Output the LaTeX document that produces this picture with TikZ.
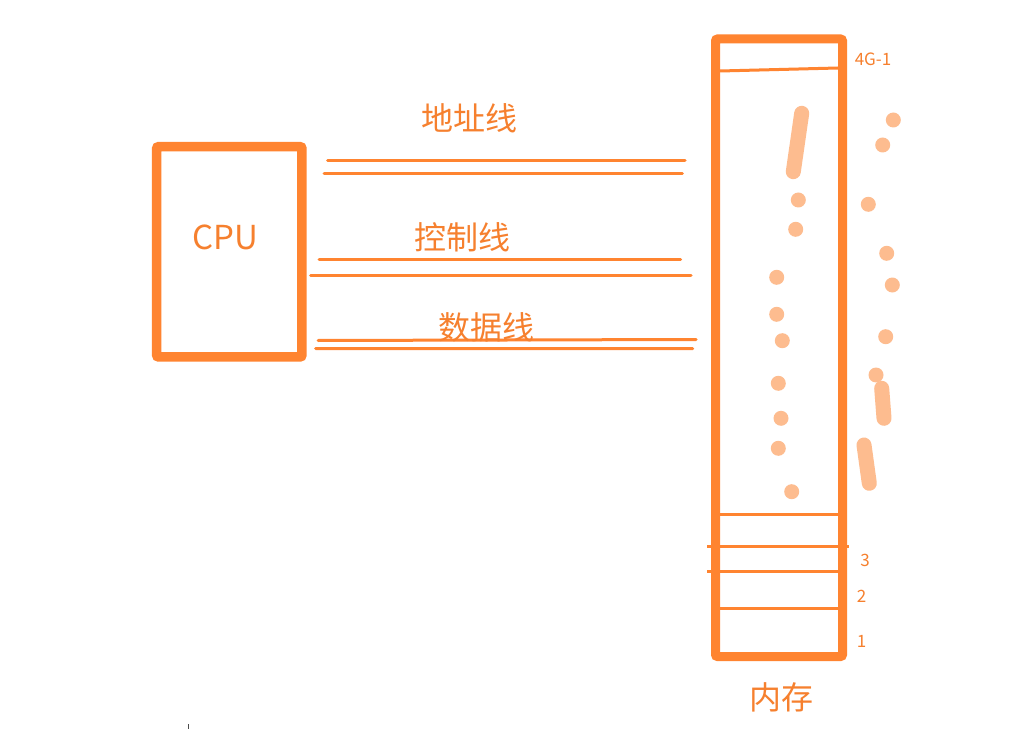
\documentclass[tikz,border=0pt]{standalone}
\usepackage{fontspec}
\setmainfont{Noto Sans CJK SC}
\definecolor{org}{RGB}{255,132,48}
\definecolor{orgtxt}{RGB}{246,128,46}
\definecolor{pale}{RGB}{253,188,143}
\begin{document}
\begin{tikzpicture}[x=1pt,y=-1pt,
  boxstyle/.style={draw=org,line width=9.5pt,rounded corners=2pt,inner sep=0pt,outer sep=0pt},
  busline/.style={draw=org,line width=3pt,line cap=round},
  cellline/.style={draw=org,line width=3pt},
  bigcjk/.style={text=orgtxt,font=\fontsize{32}{32}\selectfont,inner sep=0pt},
  smalllbl/.style={text=orgtxt,font=\fontsize{17}{17}\selectfont,inner sep=0pt},
  dotty/.style={fill=pale},
  dash stroke/.style={draw=pale,line width=15pt,line cap=round}]
\useasboundingbox (0,0) rectangle (1012,730);
\fill[white] (0,0) rectangle (1012,730);

% CPU box
\node[boxstyle,minimum width=145.3pt,minimum height=210.3pt] (cpu) at (229.3,251.8) {};
\node[text=orgtxt,font=\fontsize{33}{33}\selectfont,inner sep=0pt] (cputxt) at (225,237) {CPU};

% memory box
\node[boxstyle,line width=9pt,minimum width=127pt,minimum height=617.5pt] (mem) at (779,347.75) {};

% bus lines
\coordinate (a1s) at (327.7,161); \coordinate (a1e) at (685,161);
\coordinate (a2s) at (324,173.7); \coordinate (a2e) at (682.3,173.7);
\coordinate (c1s) at (319,259.3); \coordinate (c1e) at (680.7,259.3);
\coordinate (c2s) at (310.7,275.3); \coordinate (c2e) at (691,275.3);
\coordinate (d1s) at (318,340.5); \coordinate (d1e) at (696,339.5);
\coordinate (d2s) at (315.7,348.5); \coordinate (d2e) at (692.7,348.7);
\draw[busline] (a1s) -- (a1e);
\draw[busline] (a2s) -- (a2e);
\draw[busline] (c1s) -- (c1e);
\draw[busline] (c2s) -- (c2e);
\draw[busline] (d1s) -- (d1e);
\draw[busline] (d2s) -- (d2e);

\node[bigcjk] (addr) at (469,118) {地址线};
\node[bigcjk] (ctrl) at (462.5,237) {控制线};
\node[bigcjk] (data) at (486,327) {数据线};

% memory cells
\coordinate (t1) at (720,71); \coordinate (t2) at (838,68);
\draw[cellline] (t1) -- (t2);
\coordinate (b1l) at (720,514); \coordinate (b1r) at (838,514);
\coordinate (b2l) at (707,546); \coordinate (b2r) at (849,546);
\coordinate (b3l) at (707,571); \coordinate (b3r) at (838,571);
\coordinate (b4l) at (720,608); \coordinate (b4r) at (838,608);
\draw[cellline] (b1l) -- (b1r);
\draw[cellline] (b2l) -- (b2r);
\draw[cellline] (b3l) -- (b3r);
\draw[cellline] (b4l) -- (b4r);

\node[smalllbl] (top) at (873,59) {4G-1};
\node[smalllbl] (n3) at (865,560) {3};
\node[smalllbl] (n2) at (861.7,596) {2};
\node[smalllbl] (n1) at (861.7,641.7) {1};
\node[bigcjk] (memtxt) at (781.5,697) {内存};

% ellipsis dots
\draw[dash stroke] (801.7,113.3) -- (793.3,171.7);
\foreach \x/\y in {798.3/200, 795.7/229.3, 776.7/277.3, 776.7/314.3, 782.3/340.7,
  778.3/383.3, 781/418.3, 778.3/448.3, 791.7/491.7,
  893.3/120, 882.7/145, 868.3/204.3, 886.7/253.3, 892.3/285, 885.7/336.7, 876/375}
  \fill[dotty] (\x,\y) circle (7.5);
\draw[dash stroke] (881.7,388.3) -- (884,418.3);
\draw[dash stroke] (864,445) -- (869.3,483.3);

% small mark
\draw[black!70,line width=1pt] (188,724) -- (188,729);
\end{tikzpicture}
\end{document}
